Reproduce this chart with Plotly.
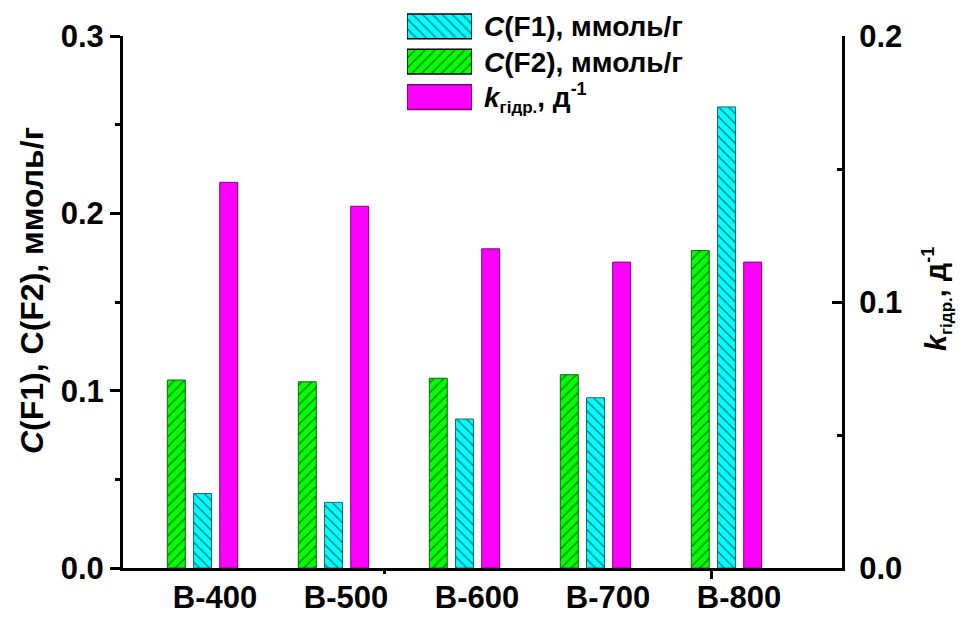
import plotly.graph_objects as go

# Samples and measured values
samples = ["B-400", "B-500", "B-600", "B-700", "B-800"]
c_f1 = [0.042, 0.037, 0.084, 0.096, 0.260]     # C(F1), mmol/g (left axis)
c_f2 = [0.106, 0.105, 0.107, 0.109, 0.179]     # C(F2), mmol/g (left axis)
k_hydr = [0.145, 0.136, 0.120, 0.115, 0.115]   # k hydrolysis, 1/day (right axis)

left_ticks = [0.0, 0.1, 0.2, 0.3]
right_ticks = [0.0, 0.1, 0.2]

FONT = "Liberation Sans, Arial, sans-serif"
pos = list(range(len(samples)))

bar_w = 0.137
shift = 0.20

hatch_f1 = dict(shape="\\", fgcolor="black", bgcolor="#00FFFF", size=7, solidity=0.2)
hatch_f2 = dict(shape="/", fgcolor="black", bgcolor="#00FF00", size=7, solidity=0.2)

fig = go.Figure()

fig.add_trace(go.Bar(
    x=pos, y=c_f2, width=bar_w, offset=-shift - bar_w / 2,
    marker=dict(color="#00FF00", line=dict(color="#1A5E1A", width=1), pattern=hatch_f2),
    xaxis="x", yaxis="y", showlegend=False, name="C(F2)"))

fig.add_trace(go.Bar(
    x=pos, y=c_f1, width=bar_w, offset=-bar_w / 2,
    marker=dict(color="#00FFFF", line=dict(color="#1A6A6A", width=1), pattern=hatch_f1),
    xaxis="x", yaxis="y", showlegend=False, name="C(F1)"))

fig.add_trace(go.Bar(
    x=pos, y=k_hydr, width=bar_w, offset=shift - bar_w / 2,
    marker=dict(color="#FF00FF", line=dict(color="#800080", width=1)),
    xaxis="x4", yaxis="y2", showlegend=False, name="k"))

# Legend keys drawn as a small horizontal bar panel
legend_rows = [0, 1, 2]
legend_full = [1, 1, 1]
fig.add_trace(go.Bar(
    x=[legend_full[0]], y=[legend_rows[0]], orientation="h", width=0.70,
    marker=dict(color="#00FFFF", line=dict(color="black", width=1.5), pattern=hatch_f1),
    xaxis="x3", yaxis="y3", showlegend=False, hoverinfo="skip"))
fig.add_trace(go.Bar(
    x=[legend_full[1]], y=[legend_rows[1]], orientation="h", width=0.70,
    marker=dict(color="#00FF00", line=dict(color="black", width=1.5), pattern=hatch_f2),
    xaxis="x3", yaxis="y3", showlegend=False, hoverinfo="skip"))
fig.add_trace(go.Bar(
    x=[legend_full[2]], y=[legend_rows[2]], orientation="h", width=0.70,
    marker=dict(color="#FF00FF", line=dict(color="#800080", width=1.5)),
    xaxis="x3", yaxis="y3", showlegend=False, hoverinfo="skip"))

x_range = [-0.607, 4.882]
label_pos = [p + 0.096 for p in pos]
y_dom = [0, 0.95]

tick_font = dict(family=FONT, size=31, color="black", weight="bold")

fig.update_layout(
    width=962, height=617,
    margin=dict(l=123, r=120, t=8, b=49, autoexpand=False),
    paper_bgcolor="white", plot_bgcolor="white",
    barmode="overlay",
    xaxis=dict(range=x_range, domain=[0, 1], anchor="y", automargin=False,
               tickmode="array", tickvals=label_pos, ticktext=samples,
               ticks="", showline=True, linecolor="black", linewidth=3,
               showgrid=False, zeroline=False, tickfont=tick_font),
    xaxis4=dict(overlaying="x", matches="x", anchor="y2", automargin=False,
                tickmode="linear", tick0=3.889, dtick=4.992, ticks="outside",
                ticklen=10, tickwidth=3, tickcolor="black",
                minor=dict(tick0=3.889, dtick=2.496, ticks="outside",
                           ticklen=5, tickwidth=3, tickcolor="black"),
                showticklabels=False, showline=False, showgrid=False,
                zeroline=False),
    yaxis=dict(range=[0, 0.3], domain=y_dom, anchor="x", automargin=False,
               tickmode="array", tickvals=left_ticks,
               ticktext=[f"{v:.1f}" for v in left_ticks],
               ticks="outside", ticklen=10, tickwidth=3, tickcolor="black",
               minor=dict(dtick=0.05, ticks="outside", ticklen=5,
                          tickwidth=3, tickcolor="black"),
               showline=True, linecolor="black", linewidth=3,
               showgrid=False, zeroline=False, tickfont=tick_font),
    yaxis2=dict(range=[0, 0.2], overlaying="y", side="right", anchor="x4",
                automargin=False,
                tickmode="array", tickvals=right_ticks,
                ticktext=[f"{v:.1f}" for v in right_ticks],
                ticks="inside", ticklen=10, tickwidth=3, tickcolor="black",
                ticklabelstandoff=8,
                minor=dict(dtick=0.05, ticks="inside", ticklen=5,
                           tickwidth=3, tickcolor="black"),
                showline=True, linecolor="black", linewidth=3,
                showgrid=False, zeroline=False, tickfont=tick_font),
    xaxis3=dict(domain=[0.395, 0.4854], anchor="y3", range=[0, 1],
                visible=False, fixedrange=True, automargin=False),
    yaxis3=dict(domain=[0.8094, 0.9987], anchor="x3", range=[2.5, -0.5],
                visible=False, fixedrange=True, automargin=False),
)

k_label = ("<i>k</i><sub><span style='font-size:17px'>гідр.</span></sub>, д"
           "<sup><span style='font-size:18px'>-1</span></sup>")

ann_font = dict(family=FONT, size=28, color="black", weight="bold")
legend_texts = [
    "<i>C</i>(F1), ммоль/г",
    "<i>C</i>(F2), ммоль/г",
    k_label,
]
legend_y = [0.967, 0.9027, 0.840]
for txt, yy in zip(legend_texts, legend_y):
    fig.add_annotation(text=txt, xref="paper", yref="paper", x=0.4993, y=yy,
                       xanchor="left", yanchor="middle", showarrow=False,
                       font=ann_font)

# Axis titles
fig.add_annotation(text="<i>C</i>(F1), C(F2), ммоль/г", xref="paper", yref="paper",
                   x=-0.1266, y=0.4964, textangle=-90, showarrow=False,
                   xanchor="center", yanchor="middle",
                   font=dict(family=FONT, size=32, color="black", weight="bold"))
fig.add_annotation(text=k_label, xref="paper", yref="paper",
                   x=1.132, y=0.48, textangle=-90, showarrow=False,
                   xanchor="center", yanchor="middle",
                   font=dict(family=FONT, size=29, color="black", weight="bold"))

fig.write_html("out.html")
